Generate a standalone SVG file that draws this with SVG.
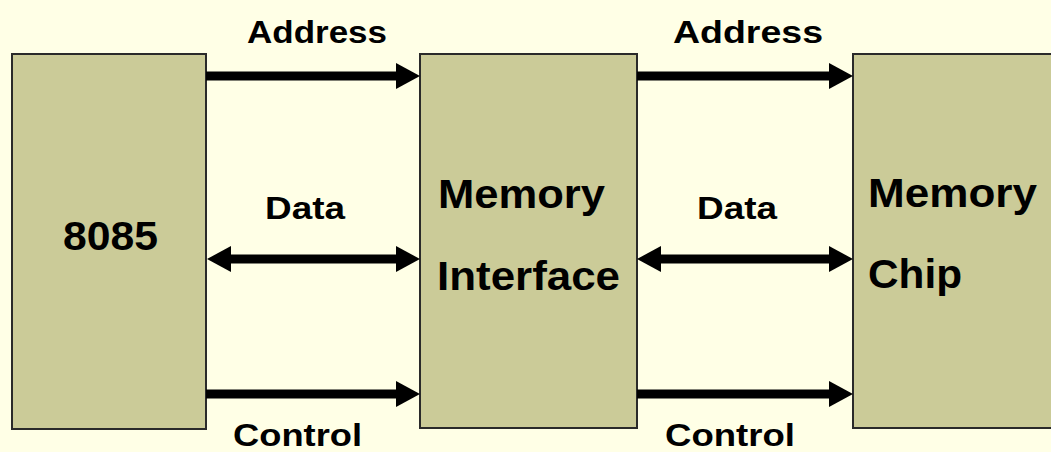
<svg xmlns="http://www.w3.org/2000/svg" width="1051" height="452" viewBox="0 0 1051 452">
  <defs>
    <style>
      .box { fill: #CBCB98; stroke: #2a2a2a; stroke-width: 2; }
      .lbl { font-family: "Liberation Sans", Arial, sans-serif; font-weight: bold; fill: #000; }
      .bus { font-size: 32px; }
      .big { font-size: 40px; }
      .shaft { stroke: #000; stroke-width: 9; fill: none; }
    </style>
    <marker id="head" markerUnits="userSpaceOnUse" markerWidth="24" markerHeight="26" viewBox="0 0 24 26" refX="2" refY="13" orient="auto-start-reverse">
      <path d="M0,0 L24,13 L0,26 z" fill="#000"/>
    </marker>
  </defs>
  <rect width="1051" height="452" fill="#FFFFE6"/>

  <g id="node-8085">
    <rect class="box" x="12" y="54" width="194" height="375"/>
    <text class="lbl big" x="63" y="250" textLength="95" lengthAdjust="spacingAndGlyphs">8085</text>
  </g>
  <g id="node-memory-interface">
    <rect class="box" x="420" y="54" width="217" height="374"/>
    <text class="lbl big" x="438" y="208" textLength="167" lengthAdjust="spacingAndGlyphs">Memory</text>
    <text class="lbl big" x="437" y="290" textLength="183" lengthAdjust="spacingAndGlyphs">Interface</text>
  </g>
  <g id="node-memory-chip">
    <rect class="box" x="853" y="54" width="210" height="374"/>
    <text class="lbl big" x="868" y="207" textLength="169" lengthAdjust="spacingAndGlyphs">Memory</text>
    <text class="lbl big" x="868" y="288" textLength="94" lengthAdjust="spacingAndGlyphs">Chip</text>
  </g>

  <g id="connectors">
    <line class="shaft" x1="206" y1="76" x2="398" y2="76" marker-end="url(#head)"/>
    <line class="shaft" x1="229" y1="259" x2="398" y2="259" marker-start="url(#head)" marker-end="url(#head)"/>
    <line class="shaft" x1="206" y1="394" x2="398" y2="394" marker-end="url(#head)"/>
    <line class="shaft" x1="637" y1="76" x2="831" y2="76" marker-end="url(#head)"/>
    <line class="shaft" x1="659" y1="259" x2="831" y2="259" marker-start="url(#head)" marker-end="url(#head)"/>
    <line class="shaft" x1="637" y1="394" x2="831" y2="394" marker-end="url(#head)"/>
  </g>

  <g id="labels">
    <text class="lbl bus" x="247" y="43" textLength="140" lengthAdjust="spacingAndGlyphs">Address</text>
    <text class="lbl bus" x="265" y="219" textLength="80" lengthAdjust="spacingAndGlyphs">Data</text>
    <text class="lbl bus" x="233" y="446" textLength="129" lengthAdjust="spacingAndGlyphs">Control</text>
    <text class="lbl bus" x="673" y="43" textLength="150" lengthAdjust="spacingAndGlyphs">Address</text>
    <text class="lbl bus" x="697" y="219" textLength="80" lengthAdjust="spacingAndGlyphs">Data</text>
    <text class="lbl bus" x="665" y="446" textLength="130" lengthAdjust="spacingAndGlyphs">Control</text>
  </g>
</svg>
